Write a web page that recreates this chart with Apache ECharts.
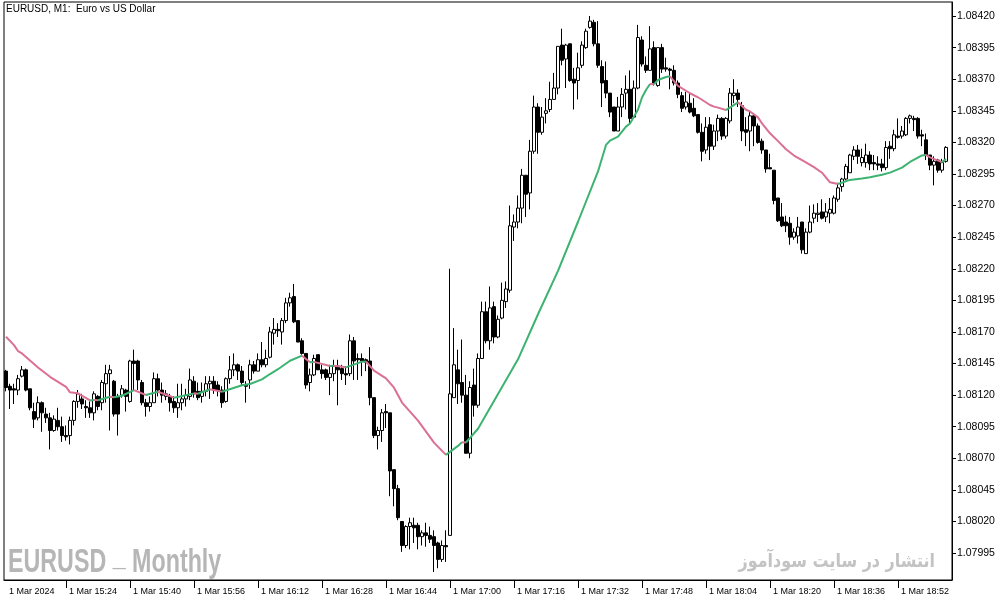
<!DOCTYPE html>
<html><head><meta charset="utf-8">
<script src="https://cdn.jsdelivr.net/npm/echarts@6/dist/echarts.min.js"></script>
<style>html,body{margin:0;padding:0;background:#fff}#c{width:1003px;height:605px}</style>
</head><body><div id="c"></div>
<script>
// ---- data (EURUSD M1, 1 Mar 2024, first bar 15:09) ----
const firstBarMinute = 15 * 60 + 9;
const barCount = 236;
const opens = [
1.08139,1.08127,1.08125,1.08124,1.08135,1.08140,1.08125,1.08107,1.08102,1.08114,
1.08105,1.08102,1.08092,1.08100,1.08095,1.08088,1.08088,1.08100,1.08115,1.08117,
1.08111,1.08110,1.08106,1.08119,1.08114,1.08129,1.08137,1.08131,1.08119,1.08120,
1.08124,1.08115,1.08147,1.08147,1.08130,1.08114,1.08111,1.08114,1.08133,1.08124,
1.08119,1.08119,1.08115,1.08110,1.08114,1.08117,1.08119,1.08131,1.08123,1.08119,
1.08123,1.08129,1.08131,1.08128,1.08124,1.08115,1.08133,1.08140,1.08144,1.08139,
1.08128,1.08132,1.08144,1.08139,1.08148,1.08144,1.08150,1.08169,1.08172,1.08170,
1.08179,1.08193,1.08198,1.08179,1.08163,1.08153,1.08130,1.08136,1.08152,1.08140,
1.08140,1.08134,1.08137,1.08143,1.08141,1.08137,1.08137,1.08163,1.08149,1.08149,
1.08148,1.08147,1.08118,1.08088,1.08092,1.08107,1.08106,1.08061,1.08046,1.08020,
1.08001,1.08016,1.08017,1.08017,1.08008,1.08011,1.08009,1.08008,1.08003,1.07990,
1.08001,1.08009,1.08118,1.08140,1.08130,1.08120,1.08074,1.08128,1.08112,1.08149,
1.08186,1.08163,1.08190,1.08166,1.08181,1.08194,1.08203,1.08253,1.08257,1.08268,
1.08294,1.08280,1.08313,1.08348,1.08328,1.08343,1.08346,1.08354,1.08363,1.08397,
1.08386,1.08398,1.08370,1.08369,1.08381,1.08395,1.08411,1.08415,1.08398,1.08380,
1.08369,1.08359,1.08348,1.08329,1.08348,1.08359,1.08362,1.08340,1.08363,1.08401,
1.08381,1.08377,1.08395,1.08365,1.08395,1.08379,1.08378,1.08377,1.08367,1.08357,
1.08348,1.08351,1.08347,1.08342,1.08328,1.08314,1.08334,1.08317,1.08329,1.08339,
1.08325,1.08337,1.08357,1.08359,1.08349,1.08330,1.08329,1.08341,1.08333,1.08321,
1.08314,1.08300,1.08298,1.08276,1.08261,1.08257,1.08256,1.08245,1.08246,1.08257,
1.08232,1.08249,1.08260,1.08263,1.08265,1.08261,1.08264,1.08264,1.08275,1.08285,
1.08291,1.08296,1.08309,1.08314,1.08304,1.08304,1.08310,1.08304,1.08303,1.08303,
1.08300,1.08317,1.08315,1.08325,1.08325,1.08326,1.08339,1.08339,1.08339,1.08326,
1.08322,1.08310,1.08302,1.08306,1.08298,1.08305];
const highs = [
1.08140,1.08129,1.08129,1.08136,1.08143,1.08141,1.08125,1.08114,1.08119,1.08115,
1.08110,1.08106,1.08104,1.08110,1.08103,1.08096,1.08103,1.08116,1.08124,1.08121,
1.08116,1.08115,1.08123,1.08120,1.08132,1.08144,1.08144,1.08132,1.08121,1.08128,
1.08125,1.08148,1.08156,1.08148,1.08132,1.08117,1.08119,1.08138,1.08137,1.08130,
1.08124,1.08121,1.08119,1.08129,1.08129,1.08125,1.08141,1.08135,1.08130,1.08130,
1.08135,1.08135,1.08135,1.08131,1.08127,1.08134,1.08151,1.08153,1.08145,1.08143,
1.08131,1.08148,1.08147,1.08153,1.08162,1.08156,1.08174,1.08181,1.08177,1.08181,
1.08197,1.08201,1.08208,1.08179,1.08165,1.08153,1.08141,1.08152,1.08152,1.08144,
1.08141,1.08144,1.08148,1.08148,1.08144,1.08143,1.08168,1.08166,1.08153,1.08153,
1.08149,1.08158,1.08118,1.08095,1.08109,1.08113,1.08106,1.08061,1.08049,1.08020,
1.08017,1.08023,1.08023,1.08019,1.08013,1.08019,1.08016,1.08013,1.08004,1.08005,
1.08013,1.08220,1.08173,1.08156,1.08164,1.08136,1.08131,1.08141,1.08153,1.08194,
1.08194,1.08206,1.08194,1.08183,1.08209,1.08210,1.08270,1.08263,1.08278,1.08299,
1.08294,1.08322,1.08357,1.08351,1.08348,1.08355,1.08368,1.08375,1.08396,1.08410,
1.08398,1.08398,1.08379,1.08391,1.08400,1.08410,1.08420,1.08417,1.08416,1.08385,
1.08384,1.08359,1.08348,1.08356,1.08363,1.08373,1.08377,1.08369,1.08413,1.08404,
1.08388,1.08412,1.08400,1.08395,1.08398,1.08387,1.08379,1.08381,1.08369,1.08360,
1.08360,1.08359,1.08355,1.08342,1.08335,1.08340,1.08340,1.08334,1.08342,1.08340,
1.08340,1.08363,1.08370,1.08362,1.08352,1.08340,1.08344,1.08343,1.08335,1.08323,
1.08314,1.08311,1.08298,1.08276,1.08272,1.08262,1.08261,1.08252,1.08261,1.08257,
1.08252,1.08270,1.08271,1.08272,1.08275,1.08272,1.08276,1.08278,1.08288,1.08292,
1.08303,1.08311,1.08317,1.08318,1.08315,1.08319,1.08313,1.08310,1.08309,1.08307,
1.08321,1.08321,1.08330,1.08339,1.08333,1.08340,1.08342,1.08341,1.08340,1.08330,
1.08327,1.08310,1.08309,1.08307,1.08307,1.08317];
const lows = [
1.08123,1.08109,1.08113,1.08120,1.08134,1.08123,1.08108,1.08094,1.08100,1.08091,
1.08098,1.08077,1.08091,1.08092,1.08083,1.08084,1.08081,1.08096,1.08110,1.08109,
1.08102,1.08102,1.08100,1.08108,1.08108,1.08114,1.08092,1.08103,1.08088,1.08118,
1.08107,1.08114,1.08124,1.08124,1.08112,1.08103,1.08107,1.08114,1.08119,1.08114,
1.08116,1.08107,1.08106,1.08102,1.08108,1.08111,1.08116,1.08118,1.08116,1.08114,
1.08119,1.08117,1.08121,1.08119,1.08110,1.08114,1.08129,1.08135,1.08132,1.08128,
1.08114,1.08125,1.08137,1.08139,1.08142,1.08142,1.08149,1.08160,1.08166,1.08160,
1.08177,1.08190,1.08177,1.08162,1.08152,1.08125,1.08123,1.08135,1.08140,1.08133,
1.08132,1.08120,1.08131,1.08112,1.08132,1.08128,1.08135,1.08132,1.08132,1.08135,
1.08139,1.08112,1.08086,1.08077,1.08083,1.08094,1.08040,1.08032,1.08021,1.07996,
1.07999,1.07998,1.08003,1.07998,1.08001,1.08000,1.08003,1.07980,1.07983,1.07988,
1.07988,1.08009,1.08118,1.08113,1.08114,1.08074,1.08070,1.08103,1.08110,1.08149,
1.08161,1.08156,1.08161,1.08165,1.08180,1.08189,1.08201,1.08242,1.08252,1.08256,
1.08261,1.08267,1.08311,1.08311,1.08326,1.08335,1.08344,1.08354,1.08358,1.08381,
1.08363,1.08368,1.08346,1.08354,1.08379,1.08394,1.08410,1.08396,1.08379,1.08348,
1.08355,1.08340,1.08329,1.08329,1.08340,1.08346,1.08335,1.08339,1.08362,1.08380,
1.08375,1.08377,1.08365,1.08364,1.08375,1.08376,1.08362,1.08365,1.08355,1.08344,
1.08346,1.08343,1.08340,1.08327,1.08305,1.08311,1.08306,1.08314,1.08321,1.08322,
1.08323,1.08335,1.08351,1.08348,1.08321,1.08317,1.08313,1.08317,1.08319,1.08311,
1.08296,1.08299,1.08271,1.08257,1.08253,1.08249,1.08239,1.08243,1.08240,1.08232,
1.08232,1.08248,1.08256,1.08257,1.08259,1.08257,1.08256,1.08263,1.08273,1.08281,
1.08290,1.08296,1.08306,1.08303,1.08301,1.08300,1.08298,1.08298,1.08298,1.08297,
1.08298,1.08307,1.08313,1.08323,1.08323,1.08325,1.08335,1.08329,1.08323,1.08317,
1.08306,1.08298,1.08286,1.08296,1.08296,1.08304];
const closes = [
1.08126,1.08124,1.08124,1.08133,1.08140,1.08124,1.08110,1.08101,1.08114,1.08106,
1.08102,1.08092,1.08101,1.08095,1.08088,1.08087,1.08100,1.08115,1.08121,1.08113,
1.08110,1.08106,1.08121,1.08111,1.08130,1.08137,1.08140,1.08105,1.08105,1.08125,
1.08119,1.08147,1.08145,1.08132,1.08114,1.08111,1.08114,1.08133,1.08124,1.08120,
1.08121,1.08114,1.08110,1.08114,1.08117,1.08120,1.08132,1.08121,1.08118,1.08123,
1.08129,1.08131,1.08124,1.08124,1.08114,1.08133,1.08140,1.08144,1.08139,1.08130,
1.08127,1.08144,1.08139,1.08148,1.08144,1.08149,1.08170,1.08172,1.08171,1.08179,
1.08193,1.08197,1.08178,1.08162,1.08153,1.08128,1.08136,1.08149,1.08140,1.08137,
1.08134,1.08137,1.08143,1.08140,1.08137,1.08136,1.08163,1.08147,1.08148,1.08147,
1.08146,1.08118,1.08088,1.08092,1.08106,1.08106,1.08060,1.08046,1.08023,1.08001,
1.08016,1.08019,1.08015,1.08008,1.08011,1.08009,1.08006,1.08001,1.07990,1.08001,
1.08000,1.08121,1.08144,1.08129,1.08120,1.08074,1.08126,1.08112,1.08149,1.08186,
1.08163,1.08189,1.08166,1.08180,1.08195,1.08204,1.08254,1.08257,1.08268,1.08294,
1.08279,1.08313,1.08348,1.08328,1.08340,1.08345,1.08354,1.08363,1.08396,1.08385,
1.08397,1.08369,1.08367,1.08379,1.08397,1.08408,1.08416,1.08398,1.08381,1.08367,
1.08359,1.08344,1.08329,1.08348,1.08358,1.08362,1.08339,1.08363,1.08403,1.08382,
1.08377,1.08394,1.08367,1.08395,1.08378,1.08378,1.08377,1.08367,1.08358,1.08347,
1.08352,1.08344,1.08341,1.08328,1.08313,1.08332,1.08317,1.08329,1.08339,1.08325,
1.08339,1.08359,1.08359,1.08354,1.08329,1.08328,1.08341,1.08333,1.08320,1.08314,
1.08299,1.08299,1.08274,1.08258,1.08254,1.08254,1.08245,1.08249,1.08253,1.08235,
1.08249,1.08257,1.08264,1.08264,1.08260,1.08265,1.08267,1.08276,1.08284,1.08291,
1.08301,1.08310,1.08314,1.08309,1.08308,1.08310,1.08303,1.08303,1.08302,1.08300,
1.08316,1.08315,1.08326,1.08324,1.08329,1.08339,1.08341,1.08338,1.08325,1.08325,
1.08310,1.08302,1.08305,1.08298,1.08304,1.08316];
// moving average read at these bar indices
const maIdx = [0,2,3,4,8,11,15,16,18,21,22,23,26,27,29,32,35,38,42,47,48,51,54,59,61,64,66,68,71,74,76,77,81,82,85,89,90,92,95,97,99,103,107,110,113,114,115,118,128,133,138,143,148,150,151,152,153,155,156,158,159,160,161,162,163,165,166,168,171,173,176,177,178,180,183,185,186,188,189,191,193,195,197,199,202,204,206,208,211,214,216,219,221,224,226,229,230,231,234,235];
const maVal = [1.081662,1.081596,1.081549,1.081530,1.081419,1.081345,1.081266,1.081222,1.081214,1.081158,1.081162,1.081159,1.081187,1.081183,1.081195,1.081240,1.081201,1.081227,1.081180,1.081214,1.081211,1.081246,1.081227,1.081278,1.081288,1.081325,1.081367,1.081405,1.081472,1.081512,1.081460,1.081463,1.081430,1.081433,1.081420,1.081465,1.081466,1.081394,1.081333,1.081259,1.081141,1.080998,1.080824,1.080727,1.080798,1.080828,1.080825,1.080934,1.081483,1.081840,1.082183,1.082572,1.082970,1.083180,1.083214,1.083230,1.083245,1.083325,1.083350,1.083460,1.083555,1.083615,1.083662,1.083660,1.083694,1.083717,1.083723,1.083648,1.083589,1.083557,1.083496,1.083483,1.083475,1.083456,1.083517,1.083458,1.083445,1.083398,1.083350,1.083272,1.083210,1.083146,1.083096,1.083060,1.083004,1.082960,1.082884,1.082871,1.082903,1.082914,1.082924,1.082944,1.082961,1.083000,1.083045,1.083097,1.083101,1.083082,1.083044,1.083069];
const yTicks = [1.07995,1.08020,1.08045,1.08070,1.08095,1.08120,1.08145,1.08170,1.08195,1.08220,1.08245,1.08270,1.08295,1.08320,1.08345,1.08370,1.08395,1.08420];
const xTickTimes = ['15:09','15:24','15:40','15:56','16:12','16:28','16:44','17:00','17:16','17:32','17:48','18:04','18:20','18:36','18:52'];
const xTickTexts = ['1 Mar 2024','1 Mar 15:24','1 Mar 15:40','1 Mar 15:56','1 Mar 16:12','1 Mar 16:28','1 Mar 16:44','1 Mar 17:00','1 Mar 17:16','1 Mar 17:32','1 Mar 17:48','1 Mar 18:04','1 Mar 18:20','1 Mar 18:36','1 Mar 18:52'];
const titleText = 'EURUSD, M1:  Euro vs US Dollar';
const watermarkLeft = ['EURUSD', '_', 'Monthly'];
const watermarkRight = 'انتشار در سایت سودآموز';

// ---- build ----
const categories = [];
for (let i = 0; i < barCount + 1; i++) {
  const m = firstBarMinute + i;
  categories.push(String(Math.floor(m / 60)).padStart(2, '0') + ':' + String(m % 60).padStart(2, '0'));
}
const labelMap = {};
xTickTimes.forEach((t, k) => { labelMap[t] = xTickTexts[k]; });
const candleData = opens.map((o, i) => [o, closes[i], lows[i], highs[i]]);

const runs = [];
let cur = null;
for (let k = 0; k < maIdx.length - 1; k++) {
  const up = maVal[k + 1] >= maVal[k];
  if (!cur || cur.up !== up) { cur = { up: up, pts: [[maIdx[k], maVal[k]]] }; runs.push(cur); }
  cur.pts.push([maIdx[k + 1], maVal[k + 1]]);
}
const PINK = '#DB7093', GREEN = '#3CB371';
const maSeries = runs.map(r => ({
  type: 'line', data: r.pts, symbol: 'none', silent: true, z: 5,
  lineStyle: { color: r.up ? GREEN : PINK, width: 2 }, animation: false
}));

const FONT = '"Liberation Sans", Arial, sans-serif';
const wmStyle = { fontSize: 33, fontWeight: 'bold', fontFamily: FONT, fill: '#b6b6b6', verticalAlign: 'bottom' };
const chart = echarts.init(document.getElementById('c'), null, { renderer: 'canvas' });
chart.setOption({
  animation: false,
  backgroundColor: '#ffffff',
  grid: { left: 4, right: 51, top: 2, bottom: 25, show: true, borderColor: '#000', borderWidth: 1 },
  xAxis: {
    type: 'category', data: categories, boundaryGap: true,
    axisLine: { show: true, lineStyle: { color: '#000', width: 1 } },
    axisTick: { show: true, alignWithLabel: true, length: 8, lineStyle: { color: '#000' },
      interval: (idx, val) => idx > 0 && labelMap[val] !== undefined },
    axisLabel: { show: true, interval: (idx, val) => labelMap[val] !== undefined,
      formatter: (val) => labelMap[val] || '', align: 'left', margin: 7,
      color: '#000', fontSize: 9, fontFamily: FONT, padding: [0, 0, 0, 3] },
    splitLine: { show: false }
  },
  yAxis: {
    type: 'value', position: 'right', scale: true,
    min: 1.079737, max: 1.084311,
    axisLine: { show: true, lineStyle: { color: '#000', width: 1 } },
    axisTick: { show: true, length: 4, customValues: yTicks, lineStyle: { color: '#000' } },
    axisLabel: { show: true, customValues: yTicks, formatter: v => Number(v).toFixed(5),
      color: '#000', fontSize: 10.5, fontFamily: FONT, margin: 5 },
    splitLine: { show: false }
  },
  series: [{
    type: 'candlestick', data: candleData, barWidth: 3, z: 3, silent: true,
    itemStyle: { color: '#ffffff', color0: '#000000', borderColor: '#000000', borderColor0: '#000000', borderWidth: 1 }
  }].concat(maSeries),
  graphic: [
    { type: 'text', left: 6, top: 4, z: 10, style: { text: titleText, fill: '#000', font: '10px ' + FONT } },
    { type: 'text', x: 8, y: 579, scaleX: 0.705, z: 1,
      style: {
        text: '{a|' + watermarkLeft[0] + ' }{u|' + watermarkLeft[1] + '}{a| ' + watermarkLeft[2] + '}',
        verticalAlign: 'bottom', fill: '#b6b6b6',
        rich: { a: wmStyle, u: Object.assign({}, wmStyle, { padding: [0, 0, 7, 0] }) }
      } },
    { type: 'text', x: 935, y: 553, scaleX: 0.84, z: 1,
      style: { text: watermarkRight, fill: '#c3c3c3', font: 'bold 19px "DejaVu Sans", sans-serif', align: 'right', verticalAlign: 'top' } }
  ]
});
</script></body></html>
